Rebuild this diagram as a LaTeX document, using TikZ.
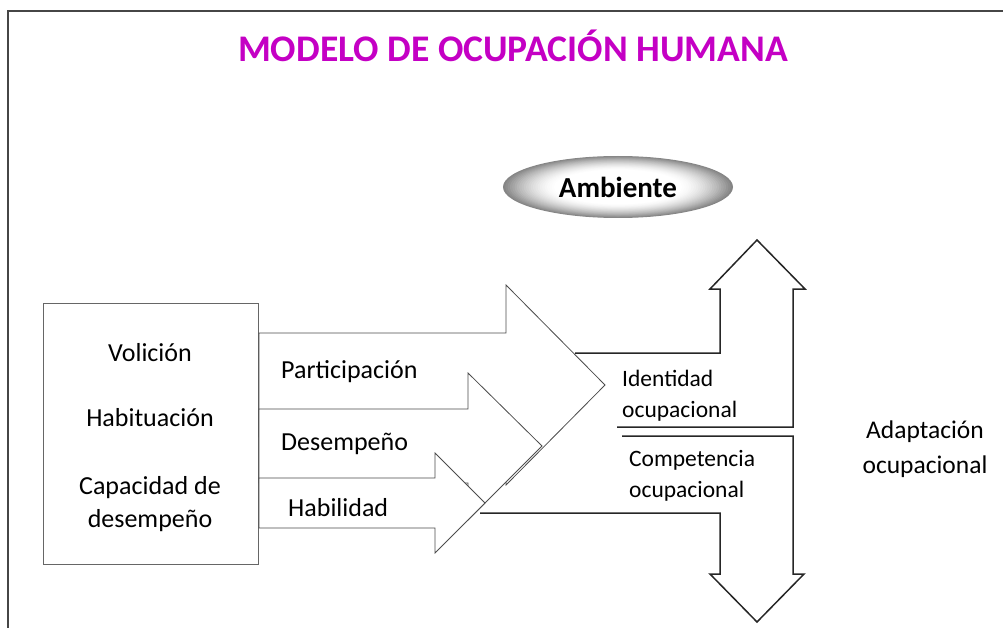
\documentclass[tikz,border=0pt]{standalone}
\usepackage{fontspec}
\setmainfont{Carlito}
\usetikzlibrary{shapes.geometric}
\definecolor{titlemag}{RGB}{196,0,196}
\definecolor{framegray}{RGB}{70,70,70}
\tikzset{
  arrowshape/.style={draw=black!70, line width=0.8pt, fill=white, line join=miter},
  bigshape/.style={draw=black!85, line width=1.5pt, line join=miter},
  lbl/.style={inner sep=0pt, text height=0.7em, text depth=0.2em, font=\fontsize{26}{33}\selectfont},
  smalllbl/.style={inner sep=0pt, align=left, font=\fontsize{23.5}{31}\selectfont},
}
\begin{document}
\begin{tikzpicture}[x=1pt,y=-1pt]
\useasboundingbox (0,0) rectangle (1003,628);
% frame
\draw[framegray, line width=2pt] (8,628) -- (8,11) -- (1003,11);
% title
\node[inner sep=0pt, text=titlemag, font=\fontsize{37.6}{40}\bfseries\selectfont] (title) at (513,46) {MODELO DE OCUPACIÓN HUMANA};
% ambiente (soft grey radial fill)
\foreach \i in {0,...,24} {
  \pgfmathsetmacro\r{1-\i*0.02}
  \pgfmathsetmacro\t{max(0.001,(\r-0.55)/0.45)}
  \pgfmathsetmacro\c{48*\t^1.6}
  \fill[black!\c] (618,187) ellipse [x radius=115*\r, y radius=31*\r];
}
\node[ellipse, minimum width=230pt, minimum height=62pt, inner sep=0pt, font=\fontsize{29}{30}\bfseries\selectfont] (amb) at (618,187) {Ambiente};
% left box
\node[draw=black!60, line width=0.8pt, minimum width=215pt, minimum height=261pt, inner sep=0pt] (box) at (150.5,433.5) {};
\node[lbl] (vol) at (150,359) {Volición};
\node[lbl] (hab) at (150,424) {Habituación};
\node[inner sep=0pt, align=center, font=\fontsize{26}{33}\selectfont] (cap) at (150,504) {Capacidad de\\desempeño};
% stacked arrows
\draw[arrowshape] (259,333) -- (506,333) -- (506,285) -- (605,385) -- (506,485) -- (506,437) -- (259,437) -- cycle;
\draw[arrowshape] (259,409) -- (468,409) -- (468,373) -- (542,446) -- (468,520) -- (468,483) -- (259,483) -- cycle;
\draw[arrowshape] (259,478) -- (435,478) -- (435,453) -- (485,503) -- (435,553) -- (435,528) -- (259,528) -- cycle;
\node[lbl, anchor=west] (par) at (281,376) {Participación};
\node[lbl, anchor=west] (des) at (281,448) {Desempeño};
\node[lbl, anchor=west] (hbl) at (288,514) {Habilidad};
% right arrows
\coordinate (upstart) at (575,353);
\coordinate (dnend) at (480,513);
\draw[bigshape] (upstart) -- (720,353) -- (720,289) -- (710,289) -- (757,240) -- (805,289) -- (793,289) -- (793,427) -- (617,427);
\draw[bigshape] (622,436) -- (793,436) -- (793,574) -- (804,574) -- (757,622) -- (710,574) -- (720,574) -- (720,513) -- (dnend);
\node[smalllbl, anchor=west] (ident) at (622,395.5) {Identidad\\ocupacional};
\node[smalllbl, anchor=west] (comp) at (629,476) {Competencia\\ocupacional};
\node[inner sep=0pt, align=center, font=\fontsize{25.5}{35}\selectfont] (adap) at (925,449.5) {Adaptación\\ocupacional};
\end{tikzpicture}
\end{document}
